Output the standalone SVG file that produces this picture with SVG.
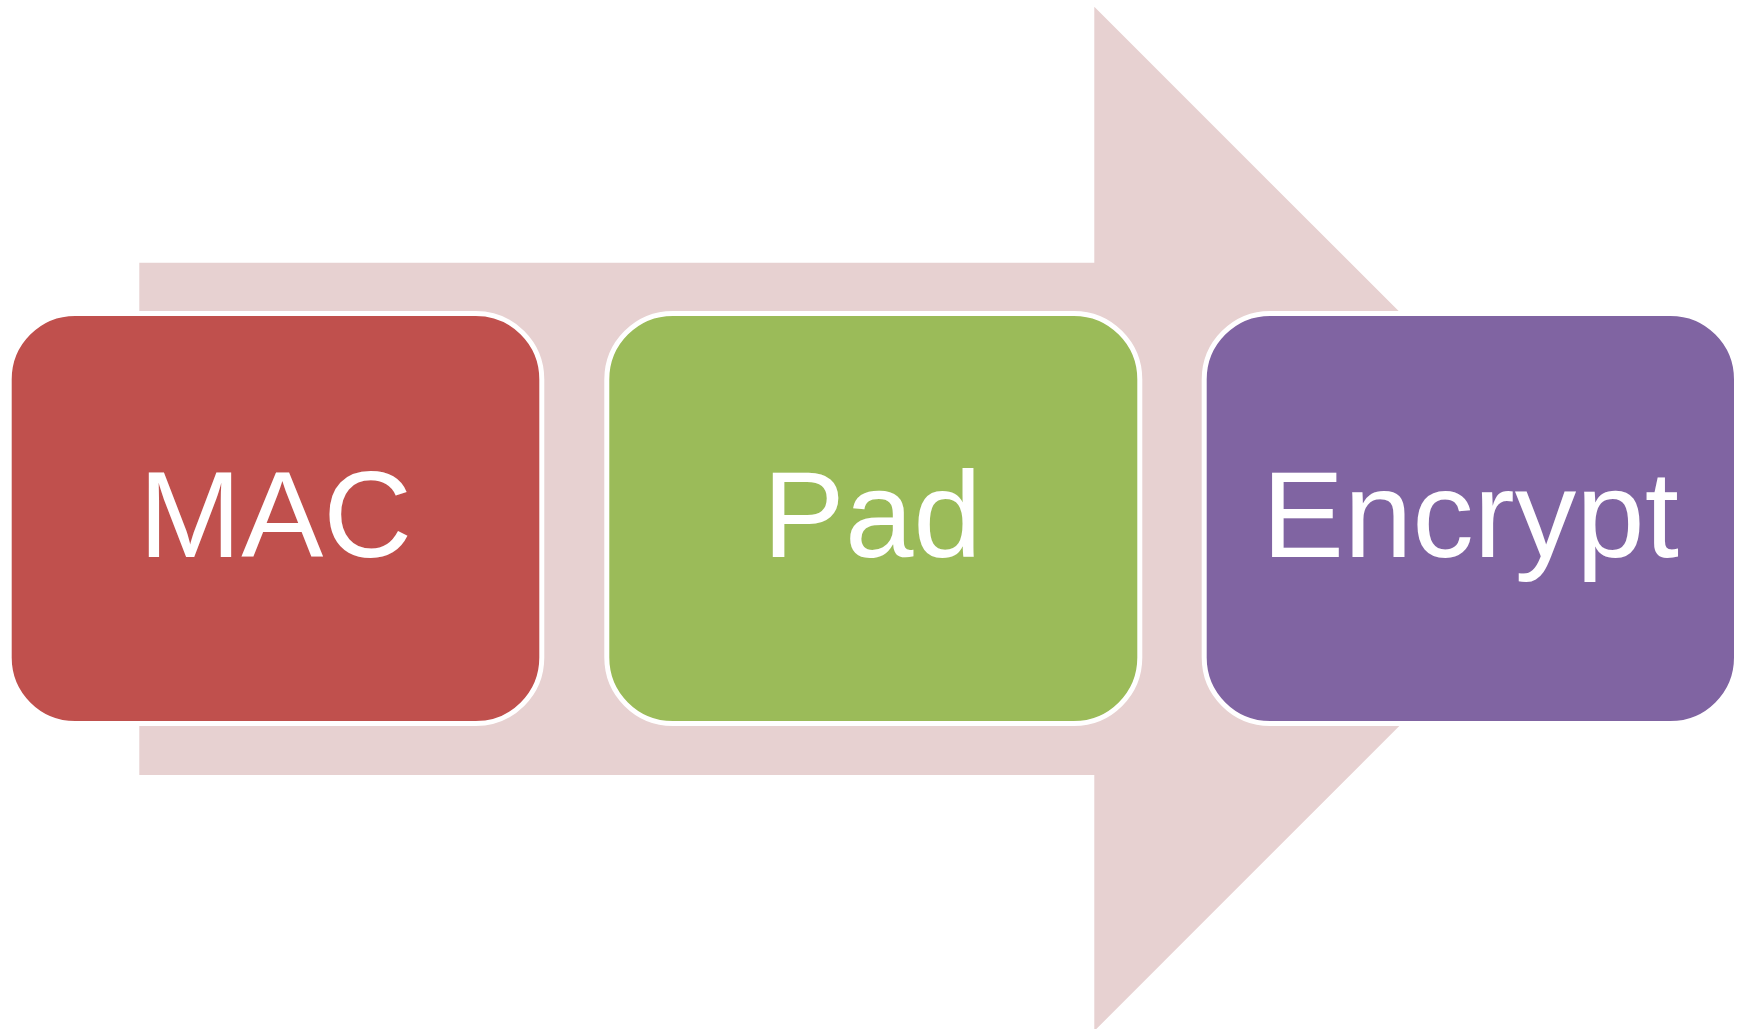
<svg xmlns="http://www.w3.org/2000/svg" width="1743" height="1029" viewBox="0 0 1743 1029">
<style>
.box{stroke:#FFFFFF;stroke-width:5}
.lbl{font-family:"Liberation Sans",Arial,sans-serif;font-size:123px;fill:#FFFFFF;text-anchor:middle}
</style>
<rect width="1743" height="1029" fill="#FFFFFF"/>
<g id="connectors">
<polygon id="arrow" points="139.3,262.7 1094.3,262.7 1094.3,6.7 1606.5,518.85 1094.3,1031 1094.3,775 139.3,775" fill="#E7D1D1"/>
</g>
<g id="node-mac">
<rect class="box" x="9.2" y="313.5" width="532.6" height="410" rx="66" ry="66" fill="#C0504D"/>
<text class="lbl" x="275.5" y="556.5">MAC</text>
</g>
<g id="node-pad">
<rect class="box" x="606.8" y="313.5" width="533" height="410" rx="66" ry="66" fill="#9BBB59"/>
<text class="lbl" x="872.3" y="556.5">Pad</text>
</g>
<g id="node-encrypt">
<rect class="box" x="1204.2" y="313.5" width="532.3" height="410" rx="66" ry="66" fill="#8064A2"/>
<text class="lbl" x="1470.4" y="556.5">Encrypt</text>
</g>
</svg>
